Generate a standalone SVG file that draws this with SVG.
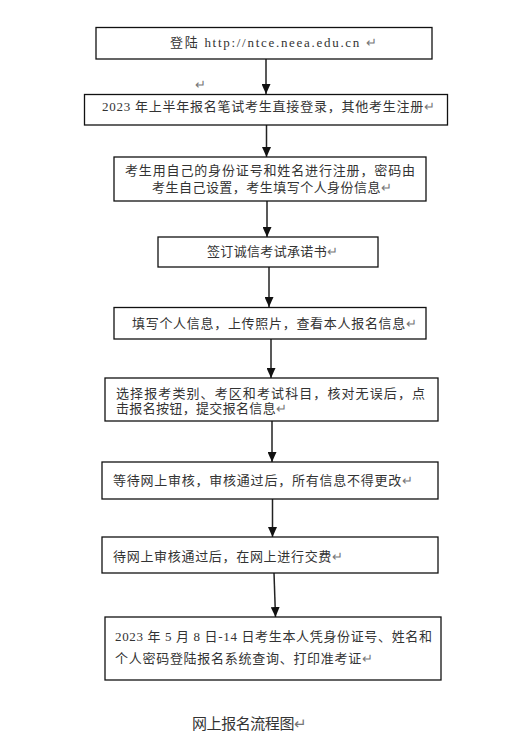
<svg xmlns="http://www.w3.org/2000/svg" width="525" height="752" viewBox="0 0 525 752">
<style>
.box{fill:#fff;stroke:#111;stroke-width:1.3}
.t{font-family:"Liberation Serif","Noto Sans CJK SC",serif;font-size:13px;fill:#333}
.cap{font-family:"Liberation Serif","Noto Sans CJK SC",serif;font-size:15px;fill:#333}
.rt{fill:#777}
.ln{stroke:#222;stroke-width:1.5;fill:none;marker-end:url(#ah)}
</style>
<defs>
<marker id="ah" markerUnits="userSpaceOnUse" markerWidth="10" markerHeight="9" refX="10" refY="4.5" orient="auto" viewBox="0 0 10 9">
<path d="M0,0 L10,4.5 L0,9 Z" fill="#111"/>
</marker>
</defs>
<rect width="525" height="752" fill="#fff"/>
<g id="connectors">
<line class="ln" x1="266" y1="59" x2="266" y2="94"/>
<line class="ln" x1="266.5" y1="125" x2="266.5" y2="157"/>
<line class="ln" x1="267" y1="201" x2="267" y2="237"/>
<line class="ln" x1="269" y1="267" x2="269" y2="307"/>
<line class="ln" x1="271" y1="339" x2="271" y2="378"/>
<line class="ln" x1="272" y1="421" x2="272" y2="462"/>
<line class="ln" x1="272.5" y1="499" x2="272.5" y2="537"/>
<line class="ln" x1="274" y1="573" x2="275.5" y2="617"/>
</g>
<g id="n1"><rect class="box" x="96" y="27.5" width="336" height="31.5"/><text class="t" x="170" y="47" textLength="207" lengthAdjust="spacing">登陆 http://ntce.neea.edu.cn <tspan class="rt">↵</tspan></text></g>
<text class="t rt" x="195" y="89">↵</text>
<g id="n2"><rect class="box" x="84.5" y="94.5" width="363" height="30.5"/><text class="t" x="102" y="111" textLength="333" lengthAdjust="spacing">2023 年上半年报名笔试考生直接登录，其他考生注册<tspan class="rt">↵</tspan></text></g>
<g id="n3"><rect class="box" x="114" y="157" width="312" height="44"/><text class="t" x="125" y="175" textLength="290" lengthAdjust="spacing">考生用自己的身份证号和姓名进行注册，密码由</text><text class="t" x="152" y="192" textLength="240" lengthAdjust="spacing">考生自己设置，考生填写个人身份信息<tspan class="rt">↵</tspan></text></g>
<g id="n4"><rect class="box" x="158" y="237" width="220" height="30"/><text class="t" x="207" y="256" textLength="131" lengthAdjust="spacing">签订诚信考试承诺书<tspan class="rt">↵</tspan></text></g>
<g id="n5"><rect class="box" x="114" y="307.5" width="312" height="31.5"/><text class="t" x="132" y="328" textLength="285" lengthAdjust="spacing">填写个人信息，上传照片，查看本人报名信息<tspan class="rt">↵</tspan></text></g>
<g id="n6"><rect class="box" x="105" y="378" width="333" height="43"/><text class="t" x="116" y="398" textLength="309" lengthAdjust="spacing">选择报考类别、考区和考试科目，核对无误后，点</text><text class="t" x="116" y="413" textLength="171" lengthAdjust="spacing">击报名按钮，提交报名信息<tspan class="rt">↵</tspan></text></g>
<g id="n7"><rect class="box" x="102" y="462" width="336" height="37"/><text class="t" x="113" y="485" textLength="300" lengthAdjust="spacing">等待网上审核，审核通过后，所有信息不得更改<tspan class="rt">↵</tspan></text></g>
<g id="n8"><rect class="box" x="102" y="537" width="336" height="36"/><text class="t" x="113" y="561" textLength="230" lengthAdjust="spacing">待网上审核通过后，在网上进行交费<tspan class="rt">↵</tspan></text></g>
<g id="n9"><rect class="box" x="105" y="617" width="336" height="63"/><text class="t" x="115" y="641" textLength="317" lengthAdjust="spacing">2023 年 5 月 8 日-14 日考生本人凭身份证号、姓名和</text><text class="t" x="115" y="663" textLength="258" lengthAdjust="spacing">个人密码登陆报名系统查询、打印准考证<tspan class="rt">↵</tspan></text></g>
<g id="caption"><text class="cap" x="192" y="729" textLength="115" lengthAdjust="spacing">网上报名流程图<tspan class="rt">↵</tspan></text></g>
</svg>
